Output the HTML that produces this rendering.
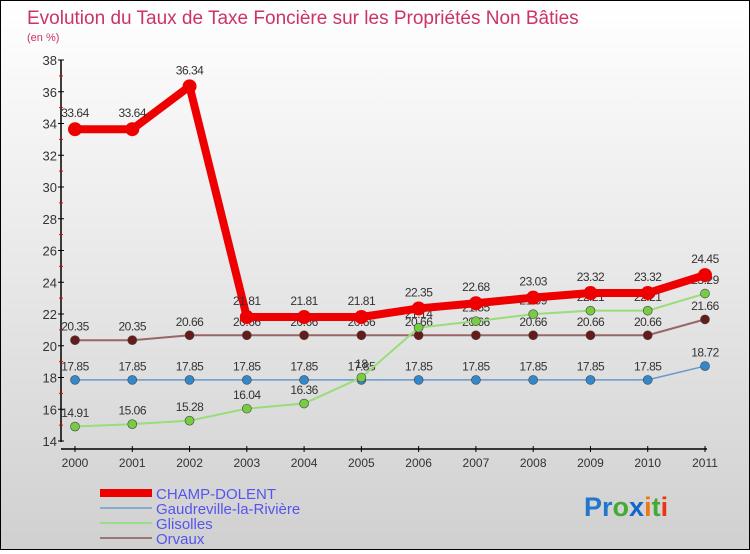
<!DOCTYPE html>
<html><head><meta charset="utf-8"><style>
html,body{margin:0;padding:0}
body{width:750px;height:550px;overflow:hidden;font-family:"Liberation Sans",sans-serif}
#wrap{position:relative;width:748px;height:548px;border:1px solid #000;background:linear-gradient(#ffffff,#d0d0d0)}
</style></head><body>
<div id="wrap">
<svg id="chart" width="748" height="548" xmlns="http://www.w3.org/2000/svg">
<text x="26" y="23" font-size="19" fill="#cc3366">Evolution du Taux de Taxe Foncière sur les Propriétés Non Bâties</text>
<text x="26" y="40" font-size="11" fill="#cc3366">(en %)</text>
<g id="axes"></g><g id="series"></g>
<g>
<rect x="99" y="488" width="52" height="8" fill="#ee0000"/>
<text x="155" y="498" font-size="15" fill="#5555ee">CHAMP-DOLENT</text>
<rect x="99" y="506" width="52" height="2" fill="#88aacc"/>
<text x="155" y="513" font-size="15" fill="#5555ee">Gaudreville-la-Rivière</text>
<rect x="99" y="521" width="52" height="2" fill="#99dd88"/>
<text x="155" y="528" font-size="15" fill="#5555ee">Glisolles</text>
<rect x="99" y="536" width="52" height="2" fill="#997777"/>
<text x="155" y="543" font-size="15" fill="#5555ee">Orvaux</text>
</g>
<text x="583" y="515" font-size="27" font-weight="bold"><tspan fill="#2277cc">Pr</tspan><tspan fill="#44aa33">o</tspan><tspan fill="#1166cc">x</tspan><tspan fill="#ee7711">i</tspan><tspan fill="#44aa33">t</tspan><tspan fill="#ee3311">i</tspan></text>
</svg>
</div>
<script>
const years=[2000,2001,2002,2003,2004,2005,2006,2007,2008,2009,2010,2011];
const yTicks=[14,16,18,20,22,24,26,28,30,32,34,36,38];
const champ=[33.64,33.64,36.34,21.81,21.81,21.81,22.35,22.68,23.03,23.32,23.32,24.45];
const gaud=[17.85,17.85,17.85,17.85,17.85,17.85,17.85,17.85,17.85,17.85,17.85,18.72];
const glis=[14.91,15.06,15.28,16.04,16.36,18,21.14,21.55,21.99,22.21,22.21,23.29];
const orv=[20.35,20.35,20.66,20.66,20.66,20.66,20.66,20.66,20.66,20.66,20.66,21.66];
const NS='http://www.w3.org/2000/svg';
const X0=74,X1=704,Y0=440,Y1=59,YMIN=14,YMAX=38;
function xs(i){return X0+(X1-X0)*i/(years.length-1);}
function ys(v){return Y0-(v-YMIN)*(Y0-Y1)/(YMAX-YMIN);}
function mk(tag,at,parent){const e=document.createElementNS(NS,tag);for(const k in at)e.setAttribute(k,at[k]);parent.appendChild(e);return e;}
const ax=document.getElementById('axes'),sr=document.getElementById('series');
let e=mk('line',{x1:60,y1:Y1,x2:60,y2:Y0+1,stroke:'#000','stroke-width':1.5},ax);


e=mk('line',{x1:60,y1:448,x2:X1+2,y2:448,stroke:'#000','stroke-width':1.5},ax);


yTicks.forEach((t,i)=>{
  const y=ys(t);
  mk('line',{x1:57,y1:y,x2:63,y2:y,stroke:'#000'},ax);
  if(i<yTicks.length-1){mk('line',{x1:58,y1:ys(t+1),x2:62,y2:ys(t+1),stroke:'#e00'},ax);}
  const tx=mk('text',{x:56,y:y+5,'font-size':13,fill:'#333','text-anchor':'end'},ax);
  tx.textContent=t;
  
  
});
years.forEach((yr,i)=>{
  const x=xs(i);
  mk('line',{x1:x,y1:445,x2:x,y2:451,stroke:'#000'},ax);
  const tx=mk('text',{x:x,y:466,'font-size':12,fill:'#333','text-anchor':'middle'},ax);
  tx.textContent=yr;
  
  
});
function draw(vals,name,color,dot,lw,r,dx){
  const g=mk('g',{},sr);
  
  
  const l=mk('polyline',{points:vals.map((v,i)=>xs(i)+','+ys(v)).join(' '),fill:'none',stroke:color,'stroke-width':lw,'stroke-linejoin':'round'},g);
  
  
  vals.forEach((v,i)=>{
    const c=mk('circle',{cx:xs(i),cy:ys(v),r:r,fill:dot,stroke:color==='#ee0000'?'none':'#444','stroke-width':0.6},g);
    
    
    const t=mk('text',{x:xs(i),y:ys(v)-(r+5),'font-size':12,fill:'#333','text-anchor':'middle','letter-spacing':'-0.5'},g);
    t.textContent=String(v);
    
    
  });
}
draw(orv,'orvaux','#996666','#661a1a',2,4.5);
draw(gaud,'gaudreville','#6699cc','#3388cc',1.5,4.5);
draw(glis,'glisolles','#99dd77','#77cc44',2,4.5);
draw(champ,'champ-dolent','#ee0000','#ee0000',8,7);
</script>
</body></html>
